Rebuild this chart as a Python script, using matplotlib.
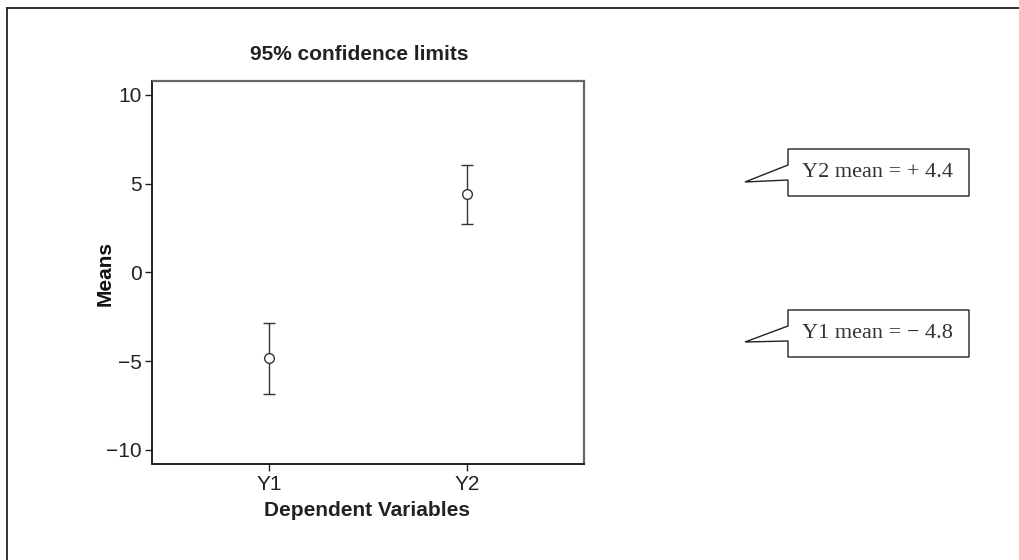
import matplotlib.pyplot as plt
from matplotlib.patches import Polygon
from matplotlib.lines import Line2D

# data
variables = ["Y1", "Y2"]
means = [-4.8, 4.4]
lower = [-6.84, 2.71]
upper = [-2.85, 6.07]

W, H = 1020, 560


def fx(px):
    return px / W


def fy(py):
    return 1 - py / H


fig = plt.figure(figsize=(W / 100, H / 100), dpi=100)
ax = fig.add_axes([fx(152.5), fy(464), fx(584) - fx(152.5), fy(80.7) - fy(464)])

xs = list(range(1, len(variables) + 1))
yerr = [[m - lo for m, lo in zip(means, lower)], [up - m for m, up in zip(means, upper)]]
ax.errorbar(xs, means, yerr=yerr, fmt="o", color="#333333", ecolor="#333333",
            elinewidth=1.0, capsize=4, capthick=1.0, markersize=7,
            markerfacecolor="white", markeredgecolor="#333333", markeredgewidth=1.0)

ax.set_xlim(0.41, 2.59)
ax.set_ylim(-10.8, 10.8)
ax.set_yticks([-10, -5, 0, 5, 10])
ax.set_xticks(xs)
ax.set_xticklabels(variables)
ax.tick_params(labelsize=15, length=5, width=1, color="#222222", labelcolor="#222222", pad=3)

for name in ["left", "bottom"]:
    ax.spines[name].set_linewidth(1.3)
    ax.spines[name].set_color("#111111")
for name in ["top", "right"]:
    ax.spines[name].set_linewidth(1.6)
    ax.spines[name].set_color("#666666")

fig.text(fx(359), fy(54), "95% confidence limits", ha="center", va="center",
         fontsize=15, fontweight="bold", family="Liberation Sans", color="#222222")
fig.text(fx(367), fy(510), "Dependent Variables", ha="center", va="center",
         fontsize=15, fontweight="bold", family="Liberation Sans", color="#222222")
fig.text(fx(105), fy(273), "Means", ha="center", va="center", rotation=90,
         fontsize=15, fontweight="bold", family="Liberation Sans", color="#111111")
for lab in ax.get_xticklabels() + ax.get_yticklabels():
    lab.set_family("Liberation Sans")

# callout boxes on the right
callouts = [
    (f"Y2 mean = + {means[1]:.1f}", 149, 196, 165, 180, 182),
    (f"Y1 mean = \u2212 {abs(means[0]):.1f}", 310, 357, 326, 341, 342),
]
for text, top, bot, j1, j2, tip in callouts:
    pts = [(788, top), (969, top), (969, bot), (788, bot), (788, j2), (745, tip), (788, j1)]
    poly = Polygon([(fx(x), fy(y)) for x, y in pts], closed=True, transform=fig.transFigure,
                   facecolor="white", edgecolor="#222222", linewidth=1.0)
    fig.add_artist(poly)
    fig.text(fx(802), fy((top + bot) / 2), text, ha="left", va="center",
             fontsize=16, family="Liberation Serif", color="#333333")

# outer frame (top and left edges)
fig.add_artist(Line2D([fx(7), 1], [fy(8), fy(8)], transform=fig.transFigure, color="#222222", lw=1.3))
fig.add_artist(Line2D([fx(7), fx(7)], [fy(8), 0], transform=fig.transFigure, color="#222222", lw=1.3))

fig.savefig("out.png", dpi=100)
